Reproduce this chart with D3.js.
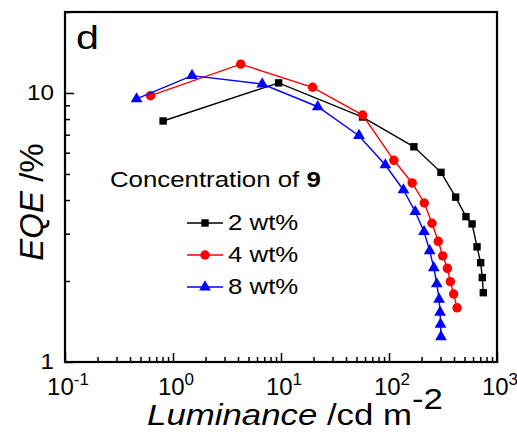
<!DOCTYPE html>
<html>
<head>
<meta charset="utf-8">
<script src="https://cdn.jsdelivr.net/npm/d3@7"></script>
<style>
  body { margin: 0; background: #fff; }
  text { font-family: Arial, "Liberation Sans", sans-serif; fill: #000; }
</style>
</head>
<body>
<svg width="517" height="432"></svg>
<script>
// EQE vs luminance, three dopant concentrations

var lum2 = [0.81, 9.5, 57, 170, 303, 414, 516, 588, 653, 706, 731, 747];
var eqe2 = [7.87, 10.9, 8.14, 6.31, 5.07, 4.10, 3.47, 3.26, 2.68, 2.34, 2.06, 1.81];

var lum4 = [0.62, 4.24, 19.6, 57, 111, 164, 212, 250, 286, 314, 347, 370, 397, 427];
var eqe4 = [9.77, 12.8, 10.5, 8.28, 5.62, 4.63, 3.90, 3.28, 2.81, 2.48, 2.23, 1.99, 1.79, 1.59];

var lum8 = [0.46, 1.50, 6.7, 21.9, 52.7, 92.5, 136, 175, 211, 238, 260, 277, 291, 297, 300, 303];
var eqe8 = [9.50, 11.6, 10.8, 8.89, 6.94, 5.40, 4.36, 3.62, 3.05, 2.59, 2.24, 1.95, 1.71, 1.53, 1.38, 1.24];

var seriesNames = ["2 wt%", "4 wt%", "8 wt%"];
var seriesColors = ["#000000", "#ff0000", "#0000ff"];
var xTickExp = [-1, 0, 1, 2, 3];
var yTickLabels = [1, 10];

var svg = d3.select("svg");
var pLeft = 65, pRight = 497, pTop = 12, pBottom = 362;

var x = d3.scaleLog().domain([0.1, 1000]).range([pLeft, pRight]);
var y = d3.scaleLog().domain([1, 20]).range([pBottom, pTop]);

var series = [
  { name: seriesNames[0], color: seriesColors[0], shape: d3.symbolSquare, size: 55,
    pts: lum2.map(function (v, i) { return [v, eqe2[i]]; }) },
  { name: seriesNames[1], color: seriesColors[1], shape: d3.symbolCircle, size: 70,
    pts: lum4.map(function (v, i) { return [v, eqe4[i]]; }) },
  { name: seriesNames[2], color: seriesColors[2], shape: d3.symbolTriangle, size: 60,
    pts: lum8.map(function (v, i) { return [v, eqe8[i]]; }) }
];

// the text in the figure is a bit wider than plain Arial
function place(sel, px, py, sx) {
  return sel.attr("transform", "translate(" + px + "," + py + ") scale(" + sx + ",1)");
}

// minor ticks for log axes
function logTicks(lo, hi) {
  var t = [];
  for (var e = lo; e < hi; e++) {
    for (var m = 1; m < 10; m++) t.push(m * Math.pow(10, e));
  }
  t.push(Math.pow(10, hi));
  return t;
}
function isMajor(d) {
  var l = Math.log10(d);
  return Math.abs(l - Math.round(l)) < 1e-9;
}
var xTicks = logTicks(-1, 3);
var yTicks = logTicks(0, 1).concat([20]);

var gx = svg.append("g")
  .attr("transform", "translate(0," + pBottom + ")")
  .call(d3.axisBottom(x).tickValues(xTicks).tickSize(0).tickFormat(""));
gx.select(".domain").remove();
gx.selectAll(".tick line")
  .attr("stroke", "#000")
  .attr("stroke-width", 1.5)
  .attr("y2", function (d) { return isMajor(d) ? -9 : -5; });

var gy = svg.append("g")
  .attr("transform", "translate(" + pLeft + ",0)")
  .call(d3.axisLeft(y).tickValues(yTicks).tickSize(0).tickFormat(""));
gy.select(".domain").remove();
gy.selectAll(".tick line")
  .attr("stroke", "#000")
  .attr("stroke-width", 1.5)
  .attr("x2", function (d) { return isMajor(d) ? 9 : 5; });

// frame
svg.append("rect")
  .attr("x", pLeft).attr("y", pTop)
  .attr("width", pRight - pLeft).attr("height", pBottom - pTop)
  .attr("fill", "none")
  .attr("stroke", "#000")
  .attr("stroke-width", 2.2);

// x tick labels 10^n
var xl = svg.append("g").selectAll("text")
  .data(xTickExp)
  .enter().append("text")
  .attr("x", function (d) { return x(Math.pow(10, d)) + 3; })
  .attr("y", 395)
  .attr("text-anchor", "middle")
  .attr("font-size", "24px");
xl.append("tspan").text("10");
xl.append("tspan")
  .attr("dy", -10)
  .attr("font-size", "17px")
  .text(function (d) { return d; });

// y tick labels
svg.append("g").selectAll("text")
  .data(yTickLabels)
  .enter().append("text")
  .attr("transform", function (d) { return "translate(54," + (y(d) + 7) + ") scale(1.1,1)"; })
  .attr("text-anchor", "end")
  .attr("font-size", "22px")
  .text(function (d) { return d; });

// axis titles
var xt = svg.append("text")
  .attr("text-anchor", "middle")
  .attr("font-size", "30px");
place(xt, 295, 425, 1.16);
xt.append("tspan").attr("font-style", "italic").text("Luminance");
xt.append("tspan").text(" /cd m");
xt.append("tspan").attr("dy", -16).text("-2");

var yt = svg.append("text")
  .attr("transform", "translate(43,202) rotate(-90)")
  .attr("text-anchor", "middle")
  .attr("font-size", "33px");
yt.append("tspan").attr("font-style", "italic").text("EQE");
yt.append("tspan").text(" /%");

place(svg.append("text").attr("font-size", "33px").text("d"), 76, 49, 1.25);

// series
var line = d3.line()
  .x(function (d) { return x(d[0]); })
  .y(function (d) { return y(d[1]); });

series.forEach(function (s) {
  svg.append("path")
    .datum(s.pts)
    .attr("d", line)
    .attr("fill", "none")
    .attr("stroke", s.color)
    .attr("stroke-width", 1.4);
  svg.append("g").selectAll("path")
    .data(s.pts)
    .enter().append("path")
    .attr("transform", function (d) { return "translate(" + x(d[0]) + "," + y(d[1]) + ")"; })
    .attr("d", d3.symbol().type(s.shape).size(s.size))
    .attr("fill", s.color);
});

// legend
var lt = svg.append("text").attr("font-size", "21.5px");
place(lt, 110, 187, 1.2);
lt.append("tspan").text("Concentration of ");
lt.append("tspan").attr("font-weight", "bold").text("9");

var leg = svg.append("g").selectAll("g")
  .data(series)
  .enter().append("g")
  .attr("transform", function (d, i) { return "translate(0," + (223 + i * 32) + ")"; });
leg.append("line")
  .attr("x1", 187).attr("x2", 223)
  .attr("stroke", function (d) { return d.color; })
  .attr("stroke-width", 1.4);
leg.append("path")
  .attr("transform", "translate(205,0)")
  .attr("d", function (d) { return d3.symbol().type(d.shape).size(d.size)(); })
  .attr("fill", function (d) { return d.color; });
leg.append("text")
  .attr("font-size", "21.5px")
  .attr("transform", "translate(228,7) scale(1.2,1)")
  .text(function (d) { return d.name; });
</script>
</body>
</html>
